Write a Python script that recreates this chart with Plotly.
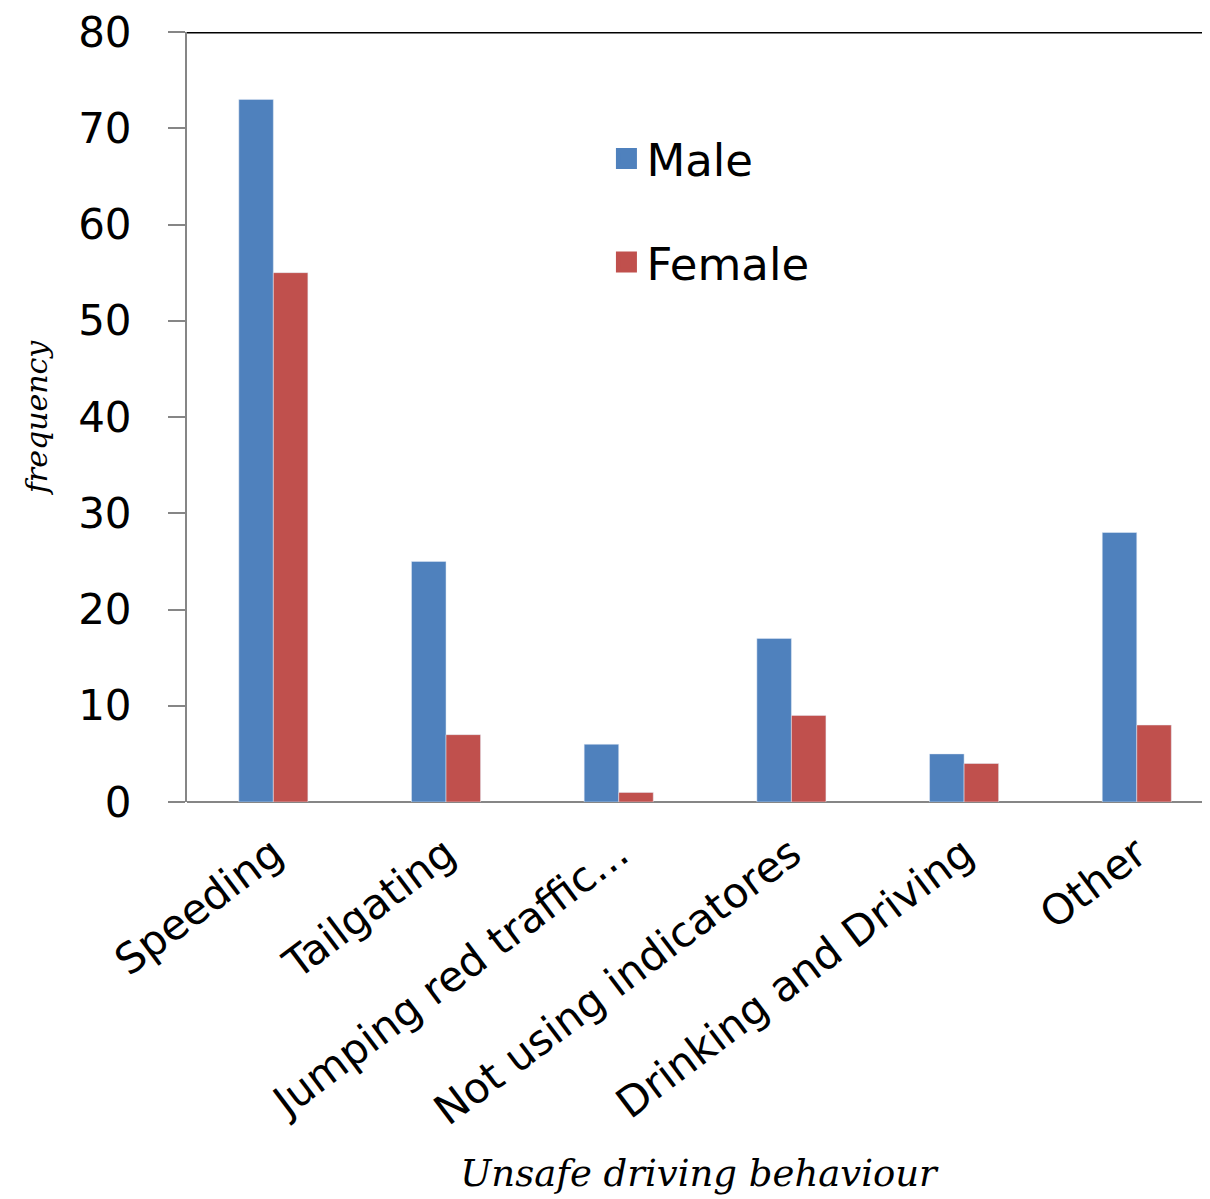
import plotly.graph_objects as go

categories = ["Speeding", "Tailgating", "Jumping red traffic...", "Not using indicatores",
              "Drinking and Driving", "Other"]
male = [73, 25, 6, 17, 5, 28]
female = [55, 7, 1, 9, 4, 8]
y_ticks = [0, 10, 20, 30, 40, 50, 60, 70, 80]

MALE_C = "#4F81BD"
FEMALE_C = "#C0504D"

fig = go.Figure()
fig.add_trace(go.Bar(x=categories, y=male, name="Male", marker_color=MALE_C, showlegend=False))
fig.add_trace(go.Bar(x=categories, y=female, name="Female", marker_color=FEMALE_C, showlegend=False))
# legend entries with larger square swatches
fig.add_trace(go.Scatter(x=[None], y=[None], mode="markers", name="Male", legendgroup="m",
                         marker=dict(symbol="square", size=30, color=MALE_C,
                                     line=dict(color=MALE_C, width=5))))
fig.add_trace(go.Scatter(x=[None], y=[None], mode="markers", name="Female", legendgroup="f",
                         marker=dict(symbol="square", size=30, color=FEMALE_C,
                                     line=dict(color=FEMALE_C, width=5))))

fig.update_layout(
    width=1202, height=1191,
    margin=dict(l=179, r=0, t=24, b=397),
    paper_bgcolor="white", plot_bgcolor="white",
    barmode="group", bargap=0.6, bargroupgap=0,
    font=dict(family="DejaVu Sans", color="black"),
    legend=dict(x=0.41, y=0.882, xanchor="left", yanchor="top",
                font=dict(size=45, family="DejaVu Sans"), tracegroupgap=42,
                itemsizing="trace", bgcolor="rgba(0,0,0,0)"),
    xaxis=dict(range=[-0.5, 5.424], showline=False, ticks="", tickangle=-37,
               ticklabelstandoff=18,
               tickfont=dict(size=42, family="DejaVu Sans"),
               title=dict(text="Unsafe driving behaviour", standoff=26,
                          font=dict(family="DejaVu Serif", size=37, style="italic"))),
    yaxis=dict(range=[0, 80], tickvals=y_ticks, showgrid=False, showline=True,
               linecolor="#868686", linewidth=2, ticks="outside", ticklen=17,
               tickcolor="#868686", tickwidth=2, zeroline=True, zerolinecolor="#868686",
               zerolinewidth=2, ticklabelstandoff=28, ticklabeloverflow="allow",
               tickfont=dict(size=42, family="DejaVu Sans"),
               title=dict(text="frequency", standoff=22,
                          font=dict(family="DejaVu Serif", size=30, style="italic"))),
    shapes=[dict(type="line", xref="paper", yref="y", x0=0, x1=1, y0=80, y1=80,
                 line=dict(color="black", width=3))],
)

fig.write_html("out.html")
